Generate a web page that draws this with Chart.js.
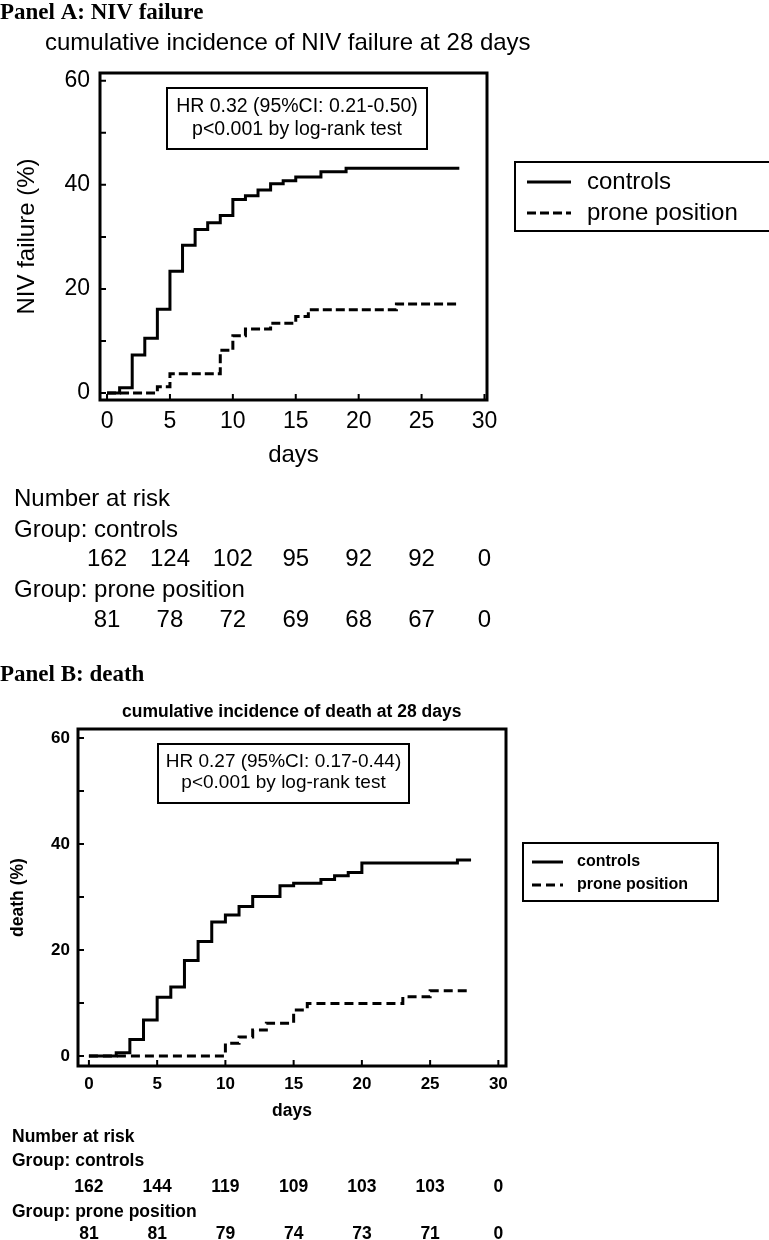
<!DOCTYPE html>
<html>
<head>
<meta charset="utf-8">
<script src="https://cdn.jsdelivr.net/npm/chart.js@4.4.1/dist/chart.umd.min.js"></script>
<style>
  body { margin: 0; background: #fff; }
  canvas { position: absolute; left: 0; }
  #chartA { top: 0; }
  #chartB { top: 650px; }
</style>
</head>
<body>
<canvas id="chartA" width="769" height="650"></canvas>
<canvas id="chartB" width="769" height="590"></canvas>
<script>
// groups and "number at risk" time points
const groups = ['controls', 'prone position'];
const riskDays = [0, 5, 10, 15, 20, 25, 30];

// Panel A: NIV failure (day of step, cumulative % from that day on)
const failDaysCtrl = [0, 1, 2, 3, 4, 5, 6, 7, 8, 9, 10, 11, 12, 13, 14, 15, 17, 19, 28];
const failCtrl     = [0, 1, 7.3, 10.5, 16.1, 23.4, 28.4, 31.4, 32.7, 34.1, 37.2, 37.9, 39.0, 40.2, 40.8, 41.5, 42.5, 43.2, 43.2];
const failDaysProne = [0, 4, 5, 9, 10, 11, 13, 15, 16, 23, 28];
const failProne     = [0, 1.2, 3.7, 8.2, 11.0, 12.3, 13.4, 14.7, 16.0, 17.1, 17.1];
const riskFailCtrl  = [162, 124, 102, 95, 92, 92, 0];
const riskFailProne = [81, 78, 72, 69, 68, 67, 0];

// Panel B: death
const deathDaysCtrl = [0, 2, 3, 4, 5, 6, 7, 8, 9, 10, 11, 12, 14, 15, 17, 18, 19, 20, 27, 28];
const deathCtrl     = [0, 0.6, 3.1, 6.8, 11.1, 13.0, 18.0, 21.6, 25.3, 26.6, 28.2, 30.1, 32.1, 32.6, 33.3, 34.0, 34.6, 36.4, 37.0, 37.0];
const deathDaysProne = [0, 10, 11, 12, 13, 15, 16, 23, 25, 28];
const deathProne     = [0, 2.4, 3.6, 4.9, 6.2, 8.7, 9.9, 11.2, 12.3, 12.3];
const riskDeathCtrl  = [162, 144, 119, 109, 103, 103, 0];
const riskDeathProne = [81, 81, 79, 74, 73, 71, 0];

const SANS = "'Liberation Sans', Arial, sans-serif";
const SERIF = "'Liberation Serif', 'Times New Roman', serif";

Chart.defaults.color = '#000';
Chart.defaults.font.family = SANS;

function pts(xs, ys) {
  return xs.map((x, i) => ({ x: x, y: ys[i] }));
}

// frame, inward ticks, headings, HR box, legend and risk table
function decor(cfg) {
  return {
    id: 'kmDecor',
    afterDatasetsDraw(chart) {
      const { ctx, chartArea: a, scales: { x, y } } = chart;
      ctx.save();
      ctx.strokeStyle = '#000';
      ctx.fillStyle = '#000';
      ctx.setLineDash([]);

      ctx.lineWidth = 3;
      ctx.strokeRect(a.left, a.top, a.right - a.left, a.bottom - a.top);
      ctx.lineWidth = 2;
      ctx.beginPath();
      y.ticks.forEach(t => {
        const p = y.getPixelForValue(t.value);
        ctx.moveTo(a.left, p); ctx.lineTo(a.left + cfg.tick, p);
      });
      x.ticks.forEach(t => {
        const p = x.getPixelForValue(t.value);
        ctx.moveTo(p, a.bottom); ctx.lineTo(p, a.bottom - cfg.tick);
      });
      ctx.stroke();

      ctx.textBaseline = 'middle';
      const text = (s, px, py, font, align) => {
        ctx.font = font;
        ctx.textAlign = align || 'left';
        ctx.fillText(s, px, py);
      };

      text(cfg.heading.text, cfg.heading.x, cfg.heading.y, cfg.heading.font);
      text(cfg.subtitle.text, cfg.subtitle.x, cfg.subtitle.y, cfg.subtitle.font);

      // HR box
      const hb = cfg.hr.box;
      ctx.lineWidth = 2;
      ctx.strokeRect(hb[0], hb[1], hb[2] - hb[0], hb[3] - hb[1]);
      cfg.hr.lines.forEach((s, i) => text(s, (hb[0] + hb[2]) / 2, cfg.hr.ys[i], cfg.hr.font, 'center'));

      // legend
      const lg = cfg.legend;
      ctx.lineWidth = 2;
      ctx.strokeRect(lg.box[0], lg.box[1], lg.box[2] - lg.box[0], lg.box[3] - lg.box[1]);
      chart.data.datasets.forEach((ds, i) => {
        ctx.save();
        ctx.lineWidth = ds.borderWidth;
        ctx.setLineDash(ds.borderDash || []);
        ctx.beginPath();
        ctx.moveTo(lg.line[0], lg.ys[i]);
        ctx.lineTo(lg.line[1], lg.ys[i]);
        ctx.stroke();
        ctx.restore();
        text(ds.label, lg.textX, lg.ys[i], lg.font);
      });

      // number at risk
      cfg.risk.rows.forEach(r => {
        if (r.values) {
          r.values.forEach((v, i) => text(String(v), x.getPixelForValue(riskDays[i]), r.y, cfg.risk.font, 'center'));
        } else {
          text(r.text, cfg.risk.x, r.y, cfg.risk.font);
        }
      });
      ctx.restore();
    }
  };
}

function kmChart(id, opt) {
  return new Chart(document.getElementById(id), {
    type: 'line',
    data: {
      datasets: [
        { label: groups[0], data: opt.ctrl, borderColor: '#000', borderWidth: 3,
          stepped: 'before', pointRadius: 0, fill: false },
        { label: groups[1], data: opt.prone, borderColor: '#000', borderWidth: 3,
          borderDash: opt.dash, stepped: 'before', pointRadius: 0, fill: false }
      ]
    },
    options: {
      responsive: false,
      animation: false,
      events: [],
      layout: { padding: opt.padding },
      plugins: { legend: { display: false }, tooltip: { enabled: false } },
      scales: {
        x: {
          type: 'linear', min: opt.xRange[0], max: opt.xRange[1],
          afterFit: s => { s.height = opt.xHeight; },
          grid: { display: false, drawTicks: false }, border: { display: false },
          ticks: { stepSize: 5, includeBounds: false, padding: opt.xPad, maxRotation: 0, font: opt.tickFont },
          title: { display: true, text: 'days', font: opt.titleFont, padding: { top: 0, bottom: 0 } }
        },
        y: {
          min: opt.yRange[0], max: opt.yRange[1],
          afterFit: s => { s.width = opt.yWidth; },
          grid: { display: false, drawTicks: false }, border: { display: false },
          ticks: { stepSize: 10, includeBounds: false, padding: opt.yPad, font: opt.tickFont,
                   callback: v => (v % 20 === 0 ? v : '') },
          title: { display: true, text: opt.yTitle, font: opt.titleFont, padding: { top: opt.yTitlePad, bottom: 0 } }
        }
      }
    },
    plugins: [decor(opt.decor)]
  });
}

kmChart('chartA', {
  ctrl: pts(failDaysCtrl, failCtrl),
  prone: pts(failDaysProne, failProne),
  dash: [9, 4],
  padding: { left: 0, top: 73, right: 282, bottom: 180 },
  xRange: [-0.56, 30.2], yRange: [-1.35, 61.5],
  xHeight: 70, yWidth: 100, xPad: 8, yPad: 10, yTitlePad: 12.6,
  tickFont: { size: 23 }, titleFont: { size: 24 },
  yTitle: 'NIV failure (%)',
  decor: {
    tick: 6,
    heading: { text: 'Panel A: NIV failure', x: 0, y: 13, font: 'bold 23px ' + SERIF },
    subtitle: { text: 'cumulative incidence of NIV failure at 28 days', x: 45, y: 43, font: '24px ' + SANS },
    hr: { lines: ['HR 0.32 (95%CI: 0.21-0.50)', 'p<0.001 by log-rank test'],
          box: [167, 88, 427, 149], ys: [107, 130], font: '19.5px ' + SANS },
    legend: { box: [515, 162, 790, 231], line: [527, 571], textX: 587, ys: [182, 213], font: '24px ' + SANS },
    risk: { x: 14, font: '24px ' + SANS, rows: [
      { text: 'Number at risk', y: 499 },
      { text: 'Group: ' + groups[0], y: 530 },
      { values: riskFailCtrl, y: 559 },
      { text: 'Group: ' + groups[1], y: 590 },
      { values: riskFailProne, y: 620 }
    ] }
  }
});

kmChart('chartB', {
  ctrl: pts(deathDaysCtrl, deathCtrl),
  prone: pts(deathDaysProne, deathProne),
  dash: [9, 5],
  padding: { left: 0, top: 79, right: 263, bottom: 118 },
  xRange: [-0.8, 30.56], yRange: [-1.89, 61.7],
  xHeight: 56, yWidth: 78, xPad: 8, yPad: 8, yTitlePad: 8,
  tickFont: { size: 17, weight: 'bold' }, titleFont: { size: 17.5, weight: 'bold' },
  yTitle: 'death (%)',
  decor: {
    tick: 6,
    heading: { text: 'Panel B: death', x: 0, y: 25, font: 'bold 23px ' + SERIF },
    subtitle: { text: 'cumulative incidence of death at 28 days', x: 122, y: 62, font: 'bold 17.5px ' + SANS },
    hr: { lines: ['HR 0.27 (95%CI: 0.17-0.44)', 'p<0.001 by log-rank test'],
          box: [158, 94, 409, 153], ys: [112, 133], font: '19px ' + SANS },
    legend: { box: [523, 193, 718, 251], line: [532, 563], textX: 577, ys: [212, 235], font: 'bold 16px ' + SANS },
    risk: { x: 12, font: 'bold 17.5px ' + SANS, rows: [
      { text: 'Number at risk', y: 487 },
      { text: 'Group: ' + groups[0], y: 511 },
      { values: riskDeathCtrl, y: 537 },
      { text: 'Group: ' + groups[1], y: 562 },
      { values: riskDeathProne, y: 584 }
    ] }
  }
});
</script>
</body>
</html>
